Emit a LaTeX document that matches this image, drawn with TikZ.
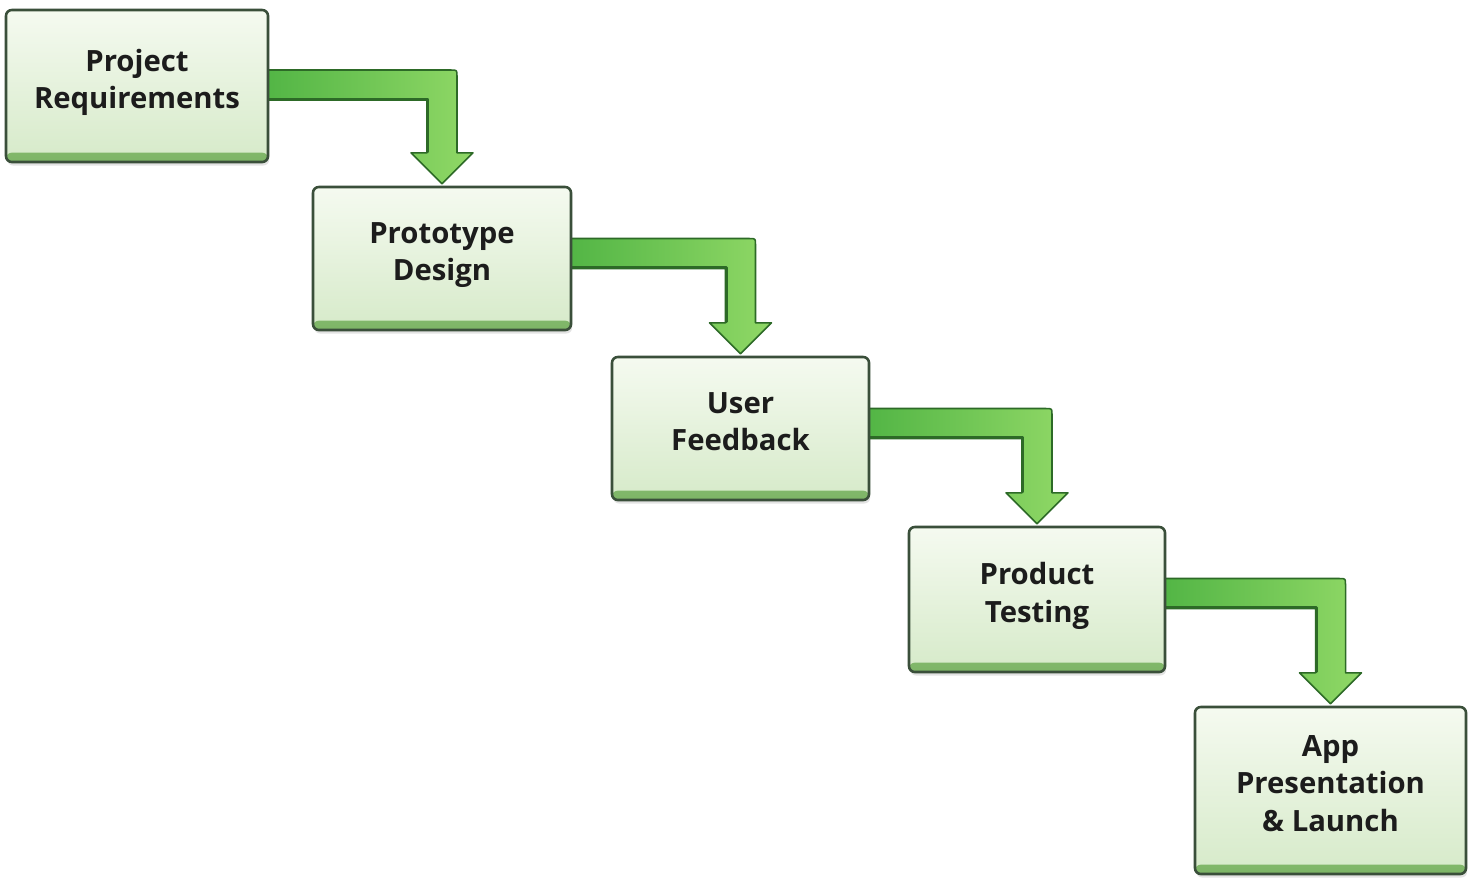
\documentclass[tikz,border=0pt]{standalone}
\usepackage{fontspec}
\setmainfont{Open Sans}
\usetikzlibrary{calc,shadows}
\definecolor{boxedge}{HTML}{3A4F3A}
\definecolor{boxtop}{HTML}{F5FAF0}
\definecolor{boxbot}{HTML}{D6EAC9}
\definecolor{stripT}{HTML}{B9DCA5}
\definecolor{stripB}{HTML}{7DB566}
\definecolor{textcol}{HTML}{1C1C1C}
\definecolor{arrL}{HTML}{52B545}
\definecolor{arrR}{HTML}{90D866}
\definecolor{arredge}{HTML}{2D6A27}
\newcommand\flowarrow[3]{%
  \coordinate (fa-A) at ($(#1.east)+(-3,#3)$);
  \coordinate (fa-B) at ($(#2.north)+(0,-3)$);
  \coordinate (fa-C) at (fa-B |- fa-A);
  \path[arrowbody] ($(fa-A)+(0,-15)$) -- ($(fa-C)+(9,-15)$)
    .. controls ($(fa-C)+(15,-15)$) .. ($(fa-C)+(15,-9)$)
    -- ($(fa-B)+(15,-31)$) -- ($(fa-B)+(31,-31)$) -- (fa-B)
    -- ($(fa-B)+(-31,-31)$) -- ($(fa-B)+(-15,-31)$)
    -- ($(fa-C)+(-15,15)$) -- ($(fa-A)+(0,15)$) -- cycle;
  \draw[arrowinner] ($(fa-A)+(0,14)$) -- ($(fa-C)+(-14,14)$) -- ($(fa-B)+(-14,-32)$);
}
\begin{document}
\begin{tikzpicture}[x=0.03cm,y=-0.03cm,
  stage/.style={draw=boxedge, line width=2.2pt, rounded corners=5pt,
    top color=boxtop, bottom color=boxbot,
    drop shadow={opacity=0.22, shadow xshift=1pt, shadow yshift=-3pt},
    align=center, inner sep=0pt, text=textcol, text depth=12pt,
    font=\fontsize{25}{32}\selectfont\bfseries,
    path picture={\shade[top color=stripT, bottom color=stripB] ([yshift=8pt]path picture bounding box.south west) rectangle (path picture bounding box.south east);}},
  arrowbody/.style={draw=arredge, line width=1.3pt, left color=arrL, right color=arrR, line join=round},
  arrowinner/.style={draw=arredge, line width=2.2pt, line cap=round, line join=round}]
\useasboundingbox (0,0) rectangle (1476,888);
\fill[white] (0,0) rectangle (1476,888);
\coordinate (p1) at (137,86);
\coordinate (p2) at (442,258.5);
\coordinate (p3) at (740.5,428.5);
\coordinate (p4) at (1037,599.5);
\coordinate (p5) at (1330.5,790.5);
\path (p1) node[minimum width=7.86cm, minimum height=4.56cm] (g1) {};
\path (p2) node[minimum width=7.74cm, minimum height=4.29cm] (g2) {};
\path (p3) node[minimum width=7.71cm, minimum height=4.29cm] (g3) {};
\path (p4) node[minimum width=7.68cm, minimum height=4.35cm] (g4) {};
\path (p5) node[minimum width=8.13cm, minimum height=5.01cm] (g5) {};
\flowarrow{g1}{g2}{-1}
\flowarrow{g2}{g3}{-5}
\flowarrow{g3}{g4}{-5}
\flowarrow{g4}{g5}{-6}
\node[stage, minimum width=7.86cm, minimum height=4.56cm] (b1) at (p1) {Project\\Requirements};
\node[stage, minimum width=7.74cm, minimum height=4.29cm] (b2) at (p2) {Prototype\\Design};
\node[stage, minimum width=7.71cm, minimum height=4.29cm] (b3) at (p3) {User\\Feedback};
\node[stage, minimum width=7.68cm, minimum height=4.35cm] (b4) at (p4) {Product\\Testing};
\node[stage, minimum width=8.13cm, minimum height=5.01cm] (b5) at (p5) {App\\Presentation\\\& Launch};
\end{tikzpicture}
\end{document}
